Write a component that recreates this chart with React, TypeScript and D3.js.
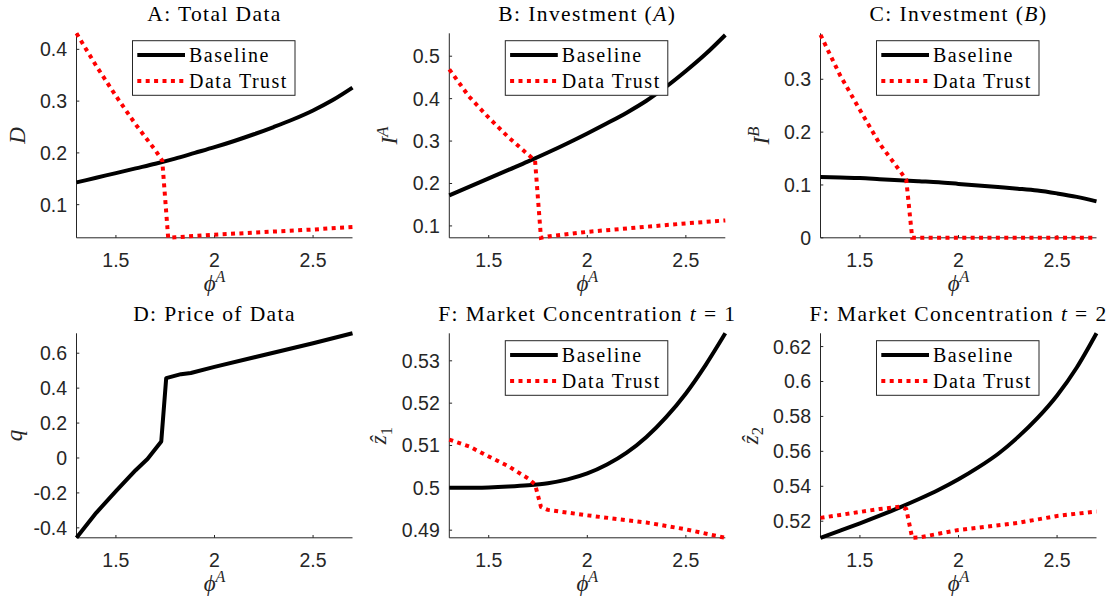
import React, { useEffect, useRef } from "react";
import * as d3 from "d3";

// x grid (phi^A) for each kind of series
const phiBase = [1.3, 1.4, 1.5, 1.6, 1.7, 1.8, 1.9, 2.0, 2.1, 2.2, 2.3, 2.4, 2.5, 2.6, 2.7];
const phiTrust = [1.3, 1.4, 1.5, 1.6, 1.7, 1.735, 1.765, 1.8, 2.0, 2.3, 2.5, 2.7];
const phiPrice = [1.3, 1.4, 1.5, 1.6, 1.66, 1.73, 1.755, 1.83, 1.88, 2.0, 2.5, 2.7];
const xTicks = [1.5, 2, 2.5];

// A: total data
const baseD = [0.143, 0.152, 0.161, 0.17, 0.179, 0.189, 0.2, 0.211, 0.223, 0.236, 0.25, 0.265, 0.282, 0.302, 0.326];
const trustD = [0.431, 0.368, 0.31, 0.255, 0.205, 0.185, 0.036, 0.037, 0.042, 0.048, 0.052, 0.057];
// B: investment A
const baseIA = [0.172, 0.192, 0.212, 0.232, 0.252, 0.273, 0.295, 0.318, 0.342, 0.367, 0.395, 0.428, 0.465, 0.505, 0.55];
const trustIA = [0.469, 0.405, 0.355, 0.309, 0.268, 0.254, 0.072, 0.075, 0.086, 0.098, 0.106, 0.113];
// C: investment B
const baseIB = [0.115, 0.114, 0.113, 0.111, 0.109, 0.107, 0.105, 0.102, 0.099, 0.096, 0.093, 0.0895, 0.084, 0.0775, 0.069];
const trustIB = [0.384, 0.307, 0.242, 0.178, 0.128, 0.11, 0, 0, 0, 0, 0, 0];
// D: price of data
const price = [-0.457, -0.314, -0.19, -0.07, -0.006, 0.095, 0.457, 0.48, 0.487, 0.522, 0.657, 0.714];
// market concentration t=1
const baseZ1 = [0.5, 0.50003, 0.5001, 0.5003, 0.5006, 0.5011, 0.502, 0.5034, 0.5055, 0.5083, 0.512, 0.5167, 0.5223, 0.529, 0.5365];
const trustZ1 = [0.5114, 0.5098, 0.5074, 0.5051, 0.5022, 0.5008, 0.4955, 0.4948, 0.4935, 0.4918, 0.4902, 0.4882];
// market concentration t=2
const baseZ2 = [0.5105, 0.5146, 0.5188, 0.5232, 0.5278, 0.5327, 0.538, 0.544, 0.5508, 0.5585, 0.568, 0.579, 0.592, 0.608, 0.6276];
const trustZ2 = [0.5219, 0.5236, 0.5253, 0.527, 0.5283, 0.527, 0.5105, 0.5107, 0.515, 0.519, 0.523, 0.5256];

const legendLabels = ["Baseline", "Data Trust"];

type Seg = [string, string]; // text, style: r | i | sup | sub

const panels = [
  { title: [["A: Total Data", "r"]] as Seg[], ylab: [["D", "i"]] as Seg[], yDomain: [0.036, 0.431], yTicks: [0.1, 0.2, 0.3, 0.4], base: baseD, trust: trustD, lx: -51.5 },
  { title: [["B: Investment (", "r"], ["A", "i"], [")", "r"]] as Seg[], ylab: [["I", "i"], ["A", "sup"]] as Seg[], yDomain: [0.072, 0.554], yTicks: [0.1, 0.2, 0.3, 0.4, 0.5], base: baseIA, trust: trustIA, lx: -52 },
  { title: [["C: Investment (", "r"], ["B", "i"], [")", "r"]] as Seg[], ylab: [["I", "i"], ["B", "sup"]] as Seg[], yDomain: [0, 0.387], yTicks: [0, 0.1, 0.2, 0.3], base: baseIB, trust: trustIB, lx: -52 },
  { title: [["D: Price of Data", "r"]] as Seg[], ylab: [["q", "i"]] as Seg[], yDomain: [-0.457, 0.714], yTicks: [-0.4, -0.2, 0, 0.2, 0.4, 0.6], base: null, trust: null, price, lx: -55 },
  { title: [["F: Market Concentration ", "r"], ["t", "i"], [" = 1", "r"]] as Seg[], ylab: [["\u1E91", "i"], ["1", "sub"]] as Seg[], yDomain: [0.4882, 0.5365], yTicks: [0.49, 0.5, 0.51, 0.52, 0.53], base: baseZ1, trust: trustZ1, lx: -63 },
  { title: [["F: Market Concentration ", "r"], ["t", "i"], [" = 2", "r"]] as Seg[], ylab: [["\u1E91", "i"], ["2", "sub"]] as Seg[], yDomain: [0.5105, 0.6276], yTicks: [0.52, 0.54, 0.56, 0.58, 0.6, 0.62], base: baseZ2, trust: trustZ2, lx: -63 },
];

const lefts = [76.5, 449.3, 820.5];
const tops = [33.3, 333.3];
const axW = 276;
const axH = 204.5;
const ink = "#262626";
const serif = "'Liberation Serif', 'Times New Roman', serif";
const sans = "'Liberation Sans', Arial, sans-serif";

function addSegs(text: any, segs: Seg[], size: number) {
  segs.forEach(([s, st]) => {
    const t = text.append("tspan").text(s);
    if (st === "i") t.attr("font-style", "italic");
    if (st === "sup") t.attr("font-size", size * 0.72).attr("dy", -size * 0.42).attr("font-style", "italic");
    if (st === "sub") t.attr("font-size", size * 0.72).attr("dy", size * 0.25);
  });
}

export default function App() {
  const ref = useRef<SVGSVGElement>(null);

  useEffect(() => {
    const svg = d3.select(ref.current);
    svg.selectAll("*").remove();

    panels.forEach((p, i) => {
      const x0 = lefts[i % 3];
      const y0 = tops[Math.floor(i / 3)];
      const g = svg.append("g").attr("transform", `translate(${x0},${y0})`);

      const x = d3.scaleLinear().domain([1.3, 2.7]).range([0, axW]);
      const y = d3.scaleLinear().domain(p.yDomain).range([axH, 0]);

      // axes lines
      g.append("line").attr("x1", 0).attr("x2", axW).attr("y1", axH).attr("y2", axH).attr("stroke", ink);
      g.append("line").attr("x1", 0).attr("x2", 0).attr("y1", 0).attr("y2", axH).attr("stroke", ink);

      // x ticks (inward)
      xTicks.forEach((t) => {
        g.append("line").attr("x1", x(t)).attr("x2", x(t)).attr("y1", axH).attr("y2", axH - 2.8).attr("stroke", ink);
        g.append("text").attr("x", x(t)).attr("y", axH + 29.5).attr("text-anchor", "middle")
          .attr("font-family", sans).attr("font-size", 19.5).attr("fill", ink).text(String(t));
      });
      // y ticks
      p.yTicks.forEach((t) => {
        g.append("line").attr("x1", 0).attr("x2", 2.8).attr("y1", y(t)).attr("y2", y(t)).attr("stroke", ink);
        g.append("text").attr("x", -9.5).attr("y", y(t) + 7).attr("text-anchor", "end")
          .attr("font-family", sans).attr("font-size", 19.5).attr("fill", ink).text(String(+t.toFixed(2)));
      });

      // title
      const title = g.append("text").attr("x", axW / 2).attr("y", -12.5).attr("text-anchor", "middle")
        .attr("font-family", serif).attr("font-size", 21.5).attr("letter-spacing", 1.4).attr("fill", "#000");
      addSegs(title, p.title, 21.5);

      // x label
      const xl = g.append("text").attr("x", axW / 2).attr("y", axH + 53).attr("text-anchor", "middle")
        .attr("font-family", serif).attr("font-size", 23).attr("fill", ink);
      xl.append("tspan").attr("font-style", "italic").text("\u03D5");
      xl.append("tspan").attr("font-style", "italic").attr("font-size", 16).attr("dy", -9).text("A");

      // y label
      const yl = g.append("text").attr("transform", `translate(${p.lx},${axH / 2}) rotate(-90)`)
        .attr("text-anchor", "middle").attr("font-family", serif).attr("font-size", 23).attr("fill", ink);
      addSegs(yl, p.ylab, 23);

      const line = (xs: number[]) => d3.line<number>().x((_, k) => x(xs[k])).y((d) => y(d));

      if (p.price) {
        g.append("path").attr("d", line(phiPrice)(p.price)).attr("fill", "none")
          .attr("stroke", "#000").attr("stroke-width", 4).attr("stroke-linejoin", "round");
        return;
      }

      g.append("path").attr("d", line(phiBase).curve(d3.curveMonotoneX)(p.base!)).attr("fill", "none")
        .attr("stroke", "#000").attr("stroke-width", 4);
      g.append("path").attr("d", line(phiTrust)(p.trust!)).attr("fill", "none")
        .attr("stroke", "#ff0000").attr("stroke-width", 4).attr("stroke-dasharray", "4 4.4");

      // legend
      const lg = g.append("g").attr("transform", "translate(56,7.4)");
      lg.append("rect").attr("width", 162.5).attr("height", 54.6).attr("fill", "#fff").attr("stroke", ink).attr("stroke-width", 1);
      legendLabels.forEach((lab, k) => {
        const ly = 14.4 + k * 26;
        lg.append("line").attr("x1", 4.8).attr("x2", 52.5).attr("y1", ly).attr("y2", ly)
          .attr("stroke", k === 0 ? "#000" : "#ff0000").attr("stroke-width", 4)
          .attr("stroke-dasharray", k === 0 ? null : "4 4.4");
        lg.append("text").attr("x", 56.5).attr("y", ly + 6.5).attr("font-family", serif)
          .attr("font-size", 20).attr("letter-spacing", 1.5).attr("fill", "#000").text(lab);
      });
    });
  }, []);

  return (
    <svg ref={ref} width={1119} height={603} style={{ position: "absolute", left: 0, top: 0, background: "#fff" }} />
  );
}
